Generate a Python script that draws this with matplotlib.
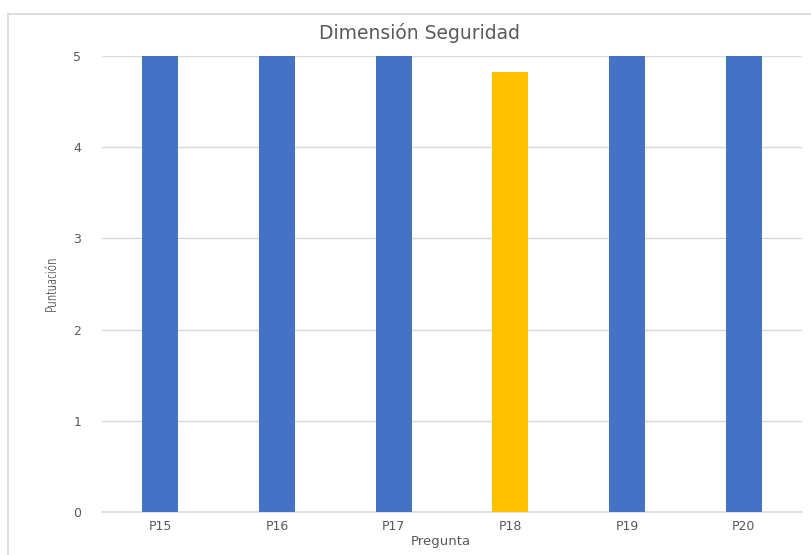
import matplotlib.pyplot as plt
from matplotlib.patches import Rectangle

preguntas = ["P15", "P16", "P17", "P18", "P19", "P20"]
puntuacion = [5.0, 5.0, 5.0, 4.83, 5.0, 5.0]
colores = ["#4472C4", "#4472C4", "#4472C4", "#FFC000", "#4472C4", "#4472C4"]

plt.rcParams["font.family"] = ["DejaVu Sans"]

fig = plt.figure(figsize=(8.12, 5.55), dpi=100)
W, H = 812, 555
ax = fig.add_axes([102 / W, 1 - 512 / H, 700 / W, (512 - 56) / H])

# marco del área del gráfico
fig.patches.append(Rectangle((8 / W, -0.1), 1.1, 1 - 14 / H + 0.1,
                             transform=fig.transFigure, fill=False,
                             edgecolor="#d9d9d9", linewidth=1.2))

x = range(len(preguntas))
ax.bar(x, puntuacion, width=0.31, color=colores, zorder=3)

ax.set_xlim(-0.5, len(preguntas) - 0.5)
ax.set_ylim(0, 5)
ax.set_yticks(range(6))
ax.set_xticks(list(x))
ax.set_xticklabels(preguntas)
ax.grid(axis="y", color="#d9d9d9", linewidth=1, zorder=0)
for s in ["top", "right", "left"]:
    ax.spines[s].set_visible(False)
ax.spines["bottom"].set_color("#d9d9d9")
ax.spines["bottom"].set_linewidth(1.2)
ax.tick_params(length=0, colors="#595959", labelsize=9)
ax.tick_params(axis="y", pad=15)
ax.tick_params(axis="x", pad=6)

fig.text(420 / W, 1 - 33 / H, "Dimensión Seguridad", ha="center", va="center",
         fontsize=13.5, color="#595959")
fig.text(441 / W, 1 - 541 / H, "Pregunta", ha="center", va="center",
         fontsize=9.5, color="#595959")
fig.text(52 / W, 1 - 283 / H, "Puntuación", ha="center", va="center",
         rotation=90, fontsize=11, color="#404040", family="Open Sans",
         fontstretch="condensed")

fig.savefig("out.png", dpi=100)
